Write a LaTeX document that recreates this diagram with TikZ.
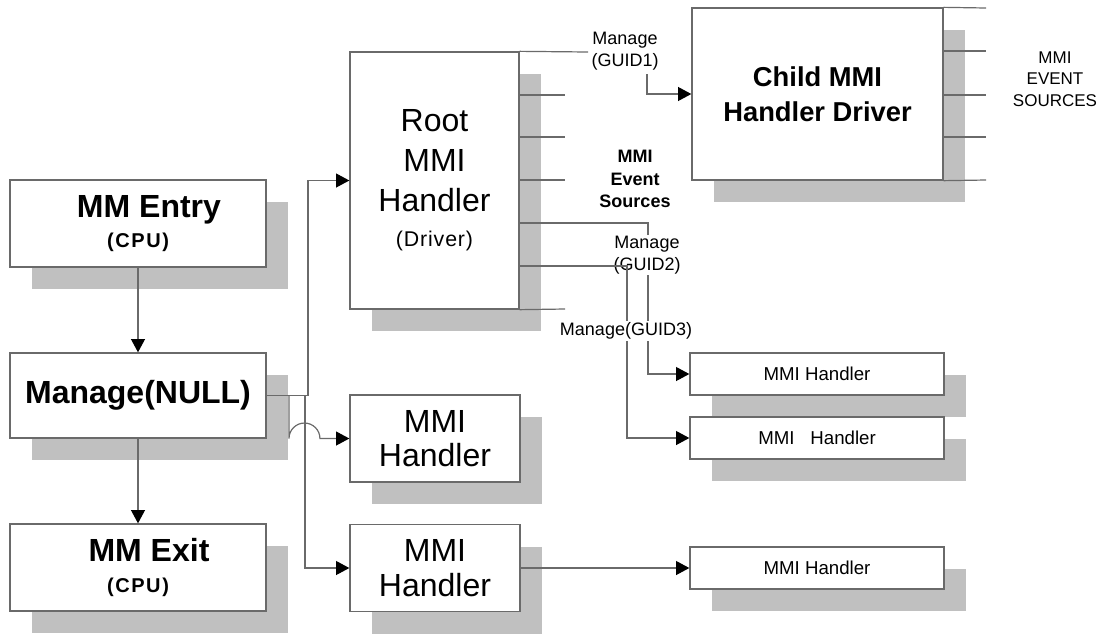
\documentclass[tikz,border=0pt]{standalone}
\usepackage{fontspec}
\setmainfont{Liberation Sans}
\usetikzlibrary{arrows.meta,shadows,calc}
\definecolor{boxc}{HTML}{6A6A6A}
\definecolor{linec}{HTML}{6A6A6A}
\definecolor{shadowc}{HTML}{C0C0C0}
\begin{document}
\begin{tikzpicture}[x=0.75pt,y=-0.75pt,
  box/.style={draw=boxc, line width=1pt, fill=white, inner sep=0pt, align=center,
    drop shadow={shadow xshift=16.5pt, shadow yshift=-16.5pt, fill=shadowc, opacity=1}},
  arr/.style={draw=linec, line width=0.9pt, -{Triangle[length=10pt,width=10.5pt,fill=black,color=black]}},
  stub/.style={draw=linec, line width=0.9pt},
  lbl/.style={align=center, inner sep=1pt, fill=white, font=\fontsize{13.5}{16.5}\selectfont},
  bigbox/.style={box, minimum width=192pt, font=\fontsize{24}{24}\selectfont\bfseries},
  midbox/.style={box, minimum width=127.5pt, minimum height=65.25pt, font=\fontsize{24}{26}\selectfont},
  smallbox/.style={box, minimum width=190.5pt, minimum height=31.5pt, font=\fontsize{14}{16}\selectfont}
]
\useasboundingbox (0,0) rectangle (1109,633);

% left column
\node[bigbox, minimum height=65.25pt] (entry) at (138,223.5)
  {\hspace*{16.5pt}MM Entry\\[-1pt]{\fontsize{15}{15}\selectfont\addfontfeature{LetterSpace=8}(CPU)}};
\node[bigbox, minimum height=63.75pt] (manage) at (138,395.5) {Manage(NULL)};
\node[bigbox, minimum height=65.25pt] (exit) at (138,567.5)
  {\hspace*{16.5pt}MM Exit\\[-1pt]{\fontsize{15}{15}\selectfont\addfontfeature{LetterSpace=8}(CPU)}};

% root handler
\node[box, minimum width=126.75pt, minimum height=192.75pt, font=\fontsize{24}{30}\selectfont] (root) at (434.5,180.5)
  {Root\\MMI\\Handler\\[-4pt]{\fontsize{16}{16}\selectfont\addfontfeature{LetterSpace=4}(Driver)}};

% middle handlers
\node[midbox] (mmi1) at (435,438.5) {MMI\\Handler};
\node[midbox] (mmi2) at (435,568) {MMI\\Handler};

% child driver
\node[box, minimum width=188.25pt, minimum height=129pt, font=\fontsize{20.5}{26}\selectfont\bfseries] (child) at (817.5,94)
  {Child MMI\\Handler Driver};

% right handlers
\node[smallbox] (r1) at (817,374) {MMI Handler};
\node[smallbox] (r2) at (817,438) {MMI\hspace{8pt} Handler};
\node[smallbox] (r3) at (817,568) {MMI Handler};

% left column connectors
\draw[arr] (entry.south) -- (manage.north);
\draw[arr] (manage.south) -- (exit.north);
\coordinate (j1) at (289,395.5);
\coordinate (j2) at (305,395.5);
\coordinate (j3) at (308,395.5);
\draw[arr] (manage.east) -- (j3) |- (root.west);
\draw[arr] (j2) |- (mmi2.west);
\draw[arr] (j1) -- (289,438.5) arc[start angle=180, end angle=0, radius=11.6pt] -- (mmi1.west);
\draw[arr] (mmi2.east) -- (mmi2.east -| r3.west);

% root stubs
\draw[stub] (root.north east) -- (588,52);
\draw[stub] (root.east |- 0,95) -- (565,95);
\draw[stub] (root.east |- 0,137) -- (565,137);
\draw[stub] (root.east |- 0,180) -- (565,180);
\draw[stub] (root.south east) -- (565,309);

% GUID1
\node[lbl] (g1) at (625,51) {Manage\\(GUID1)};
\coordinate (g1s) at (647,74);
\draw[arr] (g1s) |- (child.west);

% GUID2
\draw[arr] (root.east |- 0,223) -| (648,300) |- (r1.west);
\node[lbl] (g2) at (647,255) {Manage\\(GUID2)};

% GUID3
\draw[arr] (root.east |- 0,266) -| (627,350) |- (r2.west);
\node[lbl] (g3) at (626,331) {Manage(GUID3)};

% event sources label
\node[align=center, inner sep=0pt, font=\fontsize{13.5}{17}\selectfont\bfseries] (evs) at (635,179) {MMI\\Event\\Sources};

% child stubs
\draw[stub] (child.north east) -- (986,8);
\draw[stub] (child.east |- 0,51) -- (986,51);
\draw[stub] (child.east |- 0,95) -- (986,95);
\draw[stub] (child.east |- 0,137) -- (986,137);
\draw[stub] (child.south east) -- (986,180);
\node[align=center, inner sep=0pt, font=\fontsize{12.75}{16}\selectfont] (evs2) at (1055,79) {MMI\\EVENT\\SOURCES};
\end{tikzpicture}
\end{document}
